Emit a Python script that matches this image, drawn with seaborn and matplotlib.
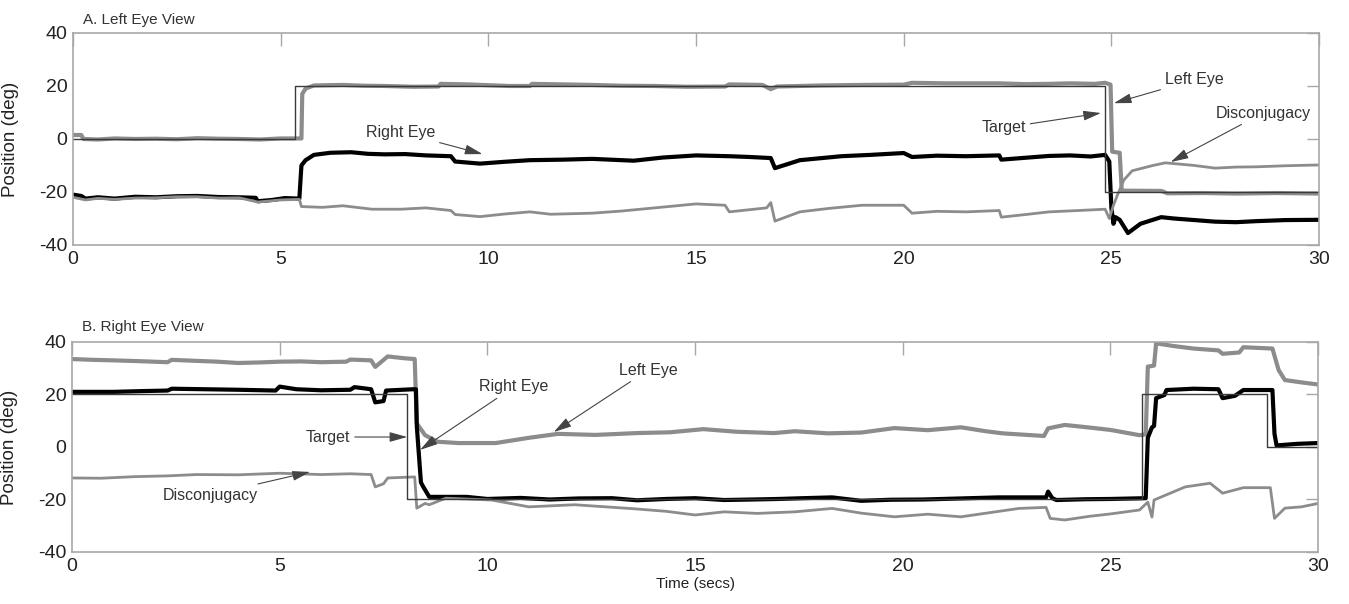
import matplotlib
matplotlib.use('Agg')
import matplotlib.pyplot as plt
import seaborn as sns

# --- Panel A: Left Eye View (time in secs, position in deg) ---
a_target = [(0, 0), (5.35, 0), (5.35, 20), (24.84, 20), (24.84, -20), (30, -20)]
a_left = [(0, 1.5), (0.2, 1.5), (0.25, 0), (0.6, -0.2), (1.0, 0.2), (1.5, 0), (2.0, 0.1),
          (2.5, -0.1), (3.0, 0.3), (3.5, 0.1), (4.0, 0), (4.5, -0.2), (5.0, 0.2), (5.5, 0.2),
          (5.52, 17), (5.6, 19), (5.8, 20.2), (6.5, 20.4), (7.0, 20.1), (7.5, 20), (8.2, 19.7),
          (8.8, 19.8), (8.85, 20.8), (9.5, 20.6), (10.0, 20.3), (10.5, 20), (11.0, 20),
          (11.05, 20.8), (11.8, 20.6), (12.5, 20.4), (13.2, 20.1), (14.0, 20), (14.8, 19.7),
          (15.7, 19.8), (15.8, 20.6), (16.6, 20.4), (16.8, 18.8), (16.95, 19.8), (17.5, 20.0),
          (18.0, 20.2), (19.0, 20.4), (20.0, 20.5), (20.2, 21.2), (21.0, 21.0), (22.3, 21.0),
          (22.9, 20.7), (23.5, 20.8), (24.0, 21.0), (24.6, 20.8), (24.85, 21.2), (24.98, 20.5),
          (25.02, -4.8), (25.2, -5.2), (25.25, -19.5), (26.2, -19.6), (26.35, -20.5),
          (27.2, -20.4), (28, -20.6), (29, -20.4), (30, -20.6)]
a_right = [(0, -21), (0.2, -21.5), (0.3, -22.5), (0.6, -22.0), (1.0, -22.5), (1.5, -21.8),
           (2.0, -22), (2.5, -21.6), (3.0, -21.5), (3.5, -21.9), (4.0, -22), (4.4, -22.2),
           (4.45, -23.5), (4.8, -23), (5.1, -22.3), (5.45, -22.5), (5.5, -10), (5.6, -8),
           (5.8, -6), (6.2, -5.2), (6.7, -5.0), (7.1, -5.6), (7.5, -5.8), (8.0, -5.7),
           (8.5, -6.2), (9.1, -6.5), (9.2, -8.5), (9.8, -9.3), (10.4, -8.6), (11, -8),
           (11.8, -7.8), (12.5, -7.5), (13.5, -8.2), (14.2, -7.0), (15.0, -6.2), (15.8, -6.5),
           (16.3, -6.8), (16.8, -7.2), (16.9, -11), (17.5, -8), (18.5, -6.5), (19.2, -6.0),
           (20.0, -5.3), (20.2, -6.8), (20.8, -6.3), (21.5, -6.5), (22.3, -6.2), (22.35, -7.8),
           (23.0, -7), (23.5, -6.4), (24.0, -6.2), (24.5, -6.6), (24.85, -6.0), (24.95, -8.5),
           (25.0, -26), (25.05, -32), (25.1, -29.5), (25.2, -30.5), (25.4, -35.5), (25.7, -32),
           (26.2, -29.5), (26.5, -30), (27.0, -30.6), (27.5, -31.2), (28.0, -31.4), (28.5, -31),
           (29.2, -30.6), (30, -30.5)]
a_disc = [(0, -22), (0.3, -23), (0.6, -22.4), (1.0, -22.8), (1.5, -22.3), (2.0, -22.2),
          (2.5, -21.8), (3.0, -21.8), (3.5, -22.3), (4.0, -22.2), (4.45, -23.8), (5.0, -23.0),
          (5.45, -22.8), (5.5, -25.5), (6.0, -25.8), (6.5, -25.2), (7.2, -26.5), (7.9, -26.5),
          (8.5, -26.0), (9.1, -27), (9.2, -28.5), (9.8, -29.3), (10.4, -28.3), (11.0, -27.5),
          (11.5, -28.4), (12.5, -28), (13.2, -27.2), (14.0, -26), (15.0, -24.5), (15.7, -25),
          (15.8, -27.5), (16.7, -26), (16.8, -24), (16.9, -31), (17.5, -27.5), (18.2, -26.2),
          (19.0, -25), (20.0, -25), (20.2, -28), (20.8, -27.3), (21.5, -27.5), (22.3, -27),
          (22.35, -29.5), (23.0, -28.4), (23.5, -27.5), (24.2, -27.0), (24.85, -26.5),
          (24.95, -30), (25.05, -25), (25.15, -21), (25.3, -15.5), (25.5, -12), (26.0, -10),
          (26.3, -9), (27.0, -10), (27.5, -11), (28.0, -10.6), (28.5, -10.5), (29.2, -10.1),
          (30, -9.8)]

# --- Panel B: Right Eye View ---
b_target = [(0, 20), (8.07, 20), (8.07, -20), (25.75, -20), (25.75, 20), (28.77, 20),
            (28.77, 0), (30, 0)]
b_left = [(0, 33.5), (0.5, 33.2), (1.0, 33), (1.6, 32.7), (2.3, 32.3), (2.4, 33.2), (3.0, 32.8),
          (3.5, 32.5), (4.0, 32.0), (4.5, 32.2), (5.0, 32.5), (5.5, 32.6), (6.0, 32.3),
          (6.6, 32.5), (6.7, 33.3), (7.2, 33), (7.3, 30.5), (7.45, 32.5), (7.6, 34.5), (8.0, 33.8),
          (8.25, 33.5), (8.3, 9), (8.5, 4.5), (8.8, 2), (9.3, 1.5), (10.2, 1.5), (11.0, 3.5),
          (11.7, 5), (12.6, 4.6), (13.6, 5.3), (14.4, 5.6), (15.2, 6.8), (16.0, 5.8), (16.9, 5.3),
          (17.4, 6), (18.2, 5.2), (19.0, 5.5), (19.8, 7.2), (20.6, 6.4), (21.4, 7.5), (22.0, 6.0),
          (22.4, 5.2), (23.4, 4.2), (23.5, 7.1), (23.9, 8.4), (24.5, 7.4), (25.0, 6.5),
          (25.7, 4.5), (25.85, 4.8), (25.9, 30.6), (26.05, 31), (26.1, 39.5), (26.5, 38.5),
          (27.0, 37.5), (27.6, 36.8), (27.7, 35.5), (28.1, 36), (28.2, 38), (28.9, 37.5),
          (29.05, 29.3), (29.2, 25.5), (29.6, 24.6), (30, 23.8)]
b_right = [(0, 21), (1.0, 21), (1.7, 21.3), (2.3, 21.5), (2.4, 22.2), (3.2, 22.0), (4.0, 21.8),
           (4.9, 21.5), (5.0, 23), (5.4, 22), (6.0, 21.6), (6.7, 21.8), (6.8, 22.8), (7.2, 22),
           (7.3, 17), (7.5, 17.5), (7.56, 21.5), (8.22, 22), (8.28, 22), (8.3, 8), (8.4, -13.5),
           (8.45, -15), (8.6, -19), (9.5, -19), (10.0, -19.8), (10.8, -19.4), (11.5, -20),
           (12.2, -19.6), (13.0, -19.5), (13.6, -20.3), (14.3, -19.8), (15.0, -19.5),
           (15.7, -20.2), (16.4, -20.0), (17.0, -19.8), (17.6, -19.5), (18.3, -19.2),
           (19.0, -20.5), (19.7, -20.1), (20.5, -20), (21.4, -19.6), (22.3, -19.2), (23.45, -19.2),
           (23.5, -17), (23.6, -19.5), (23.7, -20.2), (24.4, -19.9), (25.0, -19.8), (25.85, -19.5),
           (25.9, 3.5), (26.0, 7.5), (26.05, 8), (26.1, 18.6), (26.3, 19.8), (26.35, 21.7),
           (27.0, 22.2), (27.6, 22), (27.7, 18.6), (28.0, 19.5), (28.2, 21.7), (28.9, 21.7),
           (28.95, 5), (29.0, 0.6), (29.5, 1.2), (30, 1.5)]
b_disc = [(0, -11.8), (0.7, -11.9), (1.5, -11.3), (2.3, -11.0), (3.0, -10.5), (4.0, -10.6),
          (5.0, -10), (6.0, -10.5), (6.7, -10.2), (7.2, -10.5), (7.3, -15.2), (7.5, -14),
          (7.6, -11.8), (8.25, -11.4), (8.3, -23.3), (8.5, -21.5), (8.6, -22), (9.0, -19.5),
          (10.1, -20.2), (11.0, -22.8), (12.1, -22), (13.5, -23.5), (14.3, -24.5), (15.0, -25.9),
          (15.7, -24.7), (16.5, -25.3), (17.4, -24.7), (18.3, -23.4), (19.0, -25.2),
          (19.8, -26.6), (20.6, -25.6), (21.4, -26.6), (22.1, -25.0), (22.8, -23.4),
          (23.45, -23), (23.55, -27.2), (23.9, -27.8), (24.5, -26.4), (25.0, -25.5), (25.7, -24),
          (25.9, -21), (26.0, -26.7), (26.05, -20.2), (26.8, -15.2), (27.4, -13.8), (27.7, -17.6),
          (28.2, -15.5), (28.85, -15.5), (28.95, -27.2), (29.2, -23.3), (29.6, -22.8),
          (30, -21.5)]

# annotation labels: (text, text position, arrow tip)
a_notes = [("Right Eye", (7.88, 2.6), (9.86, -5.7)),
           ("Target", (22.4, 4.2), (24.75, 9.8)),
           ("Left Eye", (27.0, 22.3), (25.06, 13.5)),
           ("Disconjugacy", (28.65, 9.8), (26.43, -8.7))]
b_notes = [("Target", (6.16, 3.8), (8.07, 3.8)),
           ("Right Eye", (10.64, 22.9), (8.38, -1.1)),
           ("Left Eye", (13.87, 29.3), (11.6, 5.7)),
           ("Disconjugacy", (3.32, -18.3), (5.73, -9.5))]

sns.set_style("white")
plt.rcParams['font.family'] = ['Liberation Sans', 'DejaVu Sans']
plt.rcParams['axes.unicode_minus'] = False

fig = plt.figure(figsize=(13.49, 6.04), dpi=100)
ax_a = fig.add_axes([0.0541, 0.5944, 0.9237, 0.351])
ax_b = fig.add_axes([0.0534, 0.0861, 0.9237, 0.3477])

GRAY = '#8c8c8c'
BOX = '#a8a8a8'


def draw_panel(ax, target, left, right, disc, notes):
    series = [(left, GRAY, 3.0), (right, 'black', 3.0), (disc, GRAY, 2.0), (target, '#3a3a3a', 1.0)]
    for pts, col, lw in series:
        t, v = zip(*pts)
        sns.lineplot(x=list(t), y=list(v), ax=ax, color=col, linewidth=lw,
                     estimator=None, sort=False)
    for txt, xy_text, xy_tip in notes:
        ax.annotate(txt, xy=xy_tip, xytext=xy_text, ha='center', va='center',
                    fontsize=11.5, color='#333333',
                    arrowprops=dict(arrowstyle='-|>,head_length=0.9,head_width=0.25',
                                    color='#444444', lw=0.8, mutation_scale=12,
                                    shrinkA=1, shrinkB=0))
    ax.set_xlim(0, 30)
    ax.set_ylim(-40, 40)
    ax.set_xticks(range(0, 31, 5))
    ax.set_yticks([-40, -20, 0, 20, 40])
    ax.tick_params(direction='in', length=9, width=1, color=BOX, top=True, right=True,
                   labelsize=14, pad=4, labelcolor='#222222')
    for sp in ax.spines.values():
        sp.set_color(BOX)
        sp.set_linewidth(1.2)
    ax.set_ylabel('Position (deg)', fontsize=13.5, color='#222222')
    ax.yaxis.set_label_coords(-0.043, 0.5)


draw_panel(ax_a, a_target, a_left, a_right, a_disc, a_notes)
draw_panel(ax_b, b_target, b_left, b_right, b_disc, b_notes)

ax_b.set_xlabel('Time (secs)', fontsize=11, color='#222222', labelpad=2)

fig.text(83 / 1349, 1 - 20 / 604, 'A. Left Eye View', fontsize=11, color='#333333',
         ha='left', va='center')
fig.text(82 / 1349, 1 - 327 / 604, 'B. Right Eye View', fontsize=11, color='#333333',
         ha='left', va='center')

fig.savefig('out.png', dpi=100)
